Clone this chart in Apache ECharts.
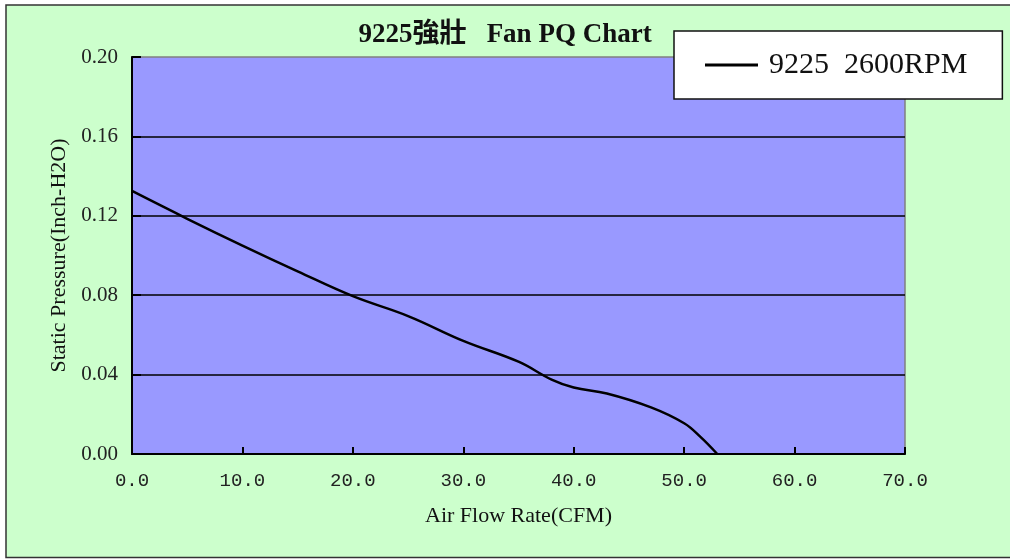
<!DOCTYPE html>
<html>
<head>
<meta charset="utf-8">
<script src="https://cdn.jsdelivr.net/npm/echarts@6/dist/echarts.min.js"></script>
<style>
html,body{margin:0;padding:0;background:#fff;}
#c{width:1010px;height:559px;}
</style>
</head>
<body>
<div id="c"></div>
<script>
const titleText = '9225強壯   Fan PQ Chart';
const seriesName = '9225  2600RPM';
const xName = 'Air Flow Rate(CFM)';
const yName = 'Static Pressure(Inch-H2O)';
const airFlow = [0, 5, 10, 15, 20, 25, 30, 35, 38, 40, 43, 47, 50, 51.5, 53];
const pressure = [0.1325, 0.1185, 0.105, 0.092, 0.0795, 0.0695, 0.057, 0.0465, 0.0375, 0.0335, 0.0305, 0.0235, 0.0155, 0.0085, 0];

const serif = "'Liberation Serif', 'Noto Sans CJK TC', serif";
const chart = echarts.init(document.getElementById('c'));
chart.setOption({
  backgroundColor: '#ffffff',
  animation: false,
  graphic: [{
    type: 'rect', z: -10, silent: true,
    shape: {x: 6, y: 5, width: 1010, height: 552.5},
    style: {fill: '#CCFFCC', stroke: '#333333', lineWidth: 1.5}
  }],
  title: {
    text: titleText, left: 'center', top: 17,
    textStyle: {fontFamily: serif, fontWeight: 'bold', fontSize: 27, color: '#111'}
  },
  legend: {
    left: 674, top: 31,
    backgroundColor: '#ffffff', borderColor: '#111', borderWidth: 1.5,
    padding: [19, 35, 19, 31],
    itemWidth: 53, itemHeight: 3, icon: 'rect',
    textStyle: {fontFamily: serif, fontSize: 30, color: '#111', padding: [0, 0, 0, 6]},
    data: [seriesName]
  },
  grid: {
    left: 132, right: 105, top: 57, bottom: 105,
    show: true, backgroundColor: '#9999FF', borderColor: '#808080', borderWidth: 1.5
  },
  xAxis: {
    type: 'value', min: 0, max: 70, interval: 10,
    name: xName, nameLocation: 'middle', nameGap: 51,
    nameTextStyle: {fontFamily: serif, fontSize: 22, color: '#111'},
    axisLine: {show: true, lineStyle: {color: '#000', width: 2}},
    axisTick: {show: true, inside: true, length: 7, lineStyle: {color: '#000', width: 2}},
    axisLabel: {fontFamily: "'Liberation Mono', monospace", fontSize: 19, color: '#222', margin: 17,
      formatter: v => v.toFixed(1)},
    splitLine: {show: false}
  },
  yAxis: {
    type: 'value', min: 0, max: 0.2, interval: 0.04,
    name: yName, nameLocation: 'middle', nameGap: 53,
    nameTextStyle: {fontFamily: serif, fontSize: 22, color: '#111'},
    axisLine: {show: true, lineStyle: {color: '#000', width: 2}},
    axisTick: {show: true, inside: true, length: 9, lineStyle: {color: '#000', width: 2}},
    axisLabel: {fontFamily: serif, fontSize: 21, color: '#222', margin: 14,
      formatter: v => v.toFixed(2)},
    splitLine: {show: true, showMaxLine: false, lineStyle: {color: '#000', width: 1.5}}
  },
  series: [{
    name: seriesName, type: 'line', smooth: 0.4,
    showSymbol: false, symbol: 'none',
    lineStyle: {color: '#000', width: 2.5},
    itemStyle: {color: '#000'},
    data: airFlow.map((x, i) => [x, pressure[i]])
  }]
});
</script>
</body>
</html>
